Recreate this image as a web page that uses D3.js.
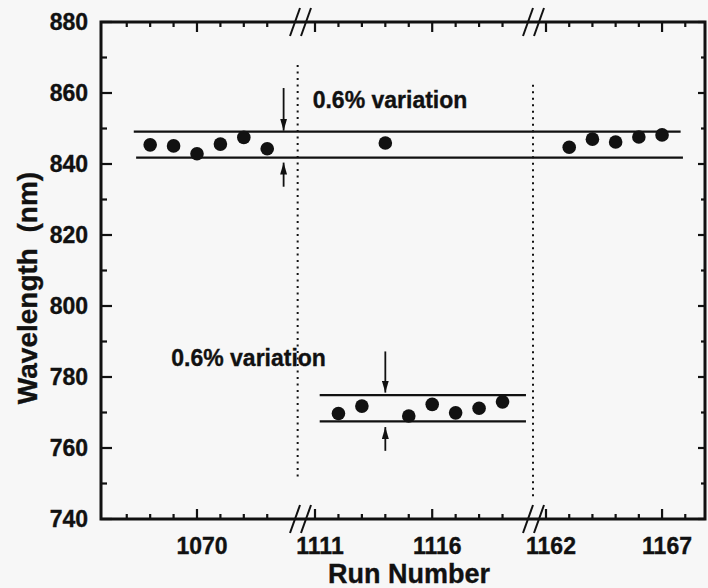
<!DOCTYPE html>
<html>
<head>
<meta charset="utf-8">
<script src="https://cdn.jsdelivr.net/npm/d3@7"></script>
<style>
  body { margin: 0; background: #f7f7f7; }
  text { font-family: "Liberation Sans", Arial, sans-serif; font-weight: bold; fill: #111; stroke: #111; stroke-width: 0.35px; }
</style>
</head>
<body>
<svg id="chart"></svg>
<script>
// data
const runsUpper = [1068, 1069, 1070, 1071, 1072, 1073, 1114, 1163, 1164, 1165, 1166, 1167];
const wavelengthUpper = [845.4, 845.1, 842.9, 845.6, 847.5, 844.3, 845.9, 844.7, 847.0, 846.2, 847.6, 848.2];
const runsLower = [1112, 1113, 1115, 1116, 1117, 1118, 1119];
const wavelengthLower = [769.7, 771.8, 769.0, 772.3, 769.9, 771.2, 773.0];

// variation bands: [from run, to run, wavelength]
const bandLines = [
  [1067.3, 1167.8, 849.1],
  [1067.4, 1167.9, 841.8],
  [1111.2, 1120.0, 774.9],
  [1111.2, 1120.0, 767.5]
];
// arrows: [run, from wavelength, to wavelength]
const arrows = [
  [1073.7, 861.4, 849.4],
  [1073.7, 833.6, 840.4],
  [1114.0, 787.2, 775.6],
  [1114.0, 759.2, 765.9]
];
const notes = ["0.6% variation", "0.6% variation"];
const noteRun = [1110.9, 1068.9];
const noteWl = [855.8, 783.0];

// dotted separators: [run, top wavelength, bottom wavelength]
const separators = [[1074.3, 867.9, 751.8], [1161.4, 862.3, 745.6]];

// broken x axis
const xSegments = [[1065.9, 1074.4], [1110.36, 1120.3], [1161.44, 1168.85]];
const xMinor = [d3.range(1067, 1074), d3.range(1111, 1120), d3.range(1162, 1169)];
const xLabels = [1070, 1111, 1116, 1162, 1167];
const yMajor = [740, 760, 780, 800, 820, 840, 860, 880];
const yMinor = [750, 770, 790, 810, 830, 850, 870];

const width = 708, height = 588;
const plotLeft = 101, plotRight = 705, plotTop = 22, plotBottom = 519;
const breakPx = [300, 533];

const svg = d3.select('#chart').attr('width', width).attr('height', height);

const x = d3.scaleLinear()
  .domain(xSegments.flat())
  .range([plotLeft, breakPx[0], breakPx[0], breakPx[1], breakPx[1], plotRight]);
const y = d3.scaleLinear().domain([740, 880]).range([plotBottom, plotTop]);

const ink = '#111';

// ticks on all four sides, pointing inward
const tickG = svg.append('g').attr('stroke', ink).attr('stroke-width', 2.2);
xMinor.flat().forEach(r => {
  const len = xLabels.includes(r) ? 10 : 5;
  tickG.append('line').attr('x1', x(r)).attr('x2', x(r)).attr('y1', plotBottom).attr('y2', plotBottom - len);
  tickG.append('line').attr('x1', x(r)).attr('x2', x(r)).attr('y1', plotTop).attr('y2', plotTop + len);
});
yMajor.concat(yMinor).forEach(v => {
  const major = yMajor.includes(v);
  tickG.append('line').attr('x1', plotLeft).attr('x2', plotLeft + (major ? 11 : 6)).attr('y1', y(v)).attr('y2', y(v));
  tickG.append('line').attr('x1', plotRight).attr('x2', plotRight - (major ? 7 : 4)).attr('y1', y(v)).attr('y2', y(v));
});

// frame
svg.append('rect')
  .attr('x', plotLeft).attr('y', plotTop)
  .attr('width', plotRight - plotLeft).attr('height', plotBottom - plotTop)
  .attr('fill', 'none').attr('stroke', ink).attr('stroke-width', 3);

// break marks
breakPx.forEach(bx => {
  [plotTop, plotBottom].forEach(by => {
    [-5, 6].forEach(off => {
      svg.append('line')
        .attr('x1', bx + off - 5).attr('y1', by + 14)
        .attr('x2', bx + off + 5).attr('y2', by - 14)
        .attr('stroke', ink).attr('stroke-width', 2);
    });
  });
});

// tick labels
svg.append('g').selectAll('text').data(xLabels).join('text')
  .attr('x', d => x(d) + 5).attr('y', plotBottom + 35)
  .attr('text-anchor', 'middle').attr('font-size', 23)
  .text(d => d);
svg.append('g').selectAll('text').data(yMajor).join('text')
  .attr('x', plotLeft - 13).attr('y', d => y(d)).attr('dy', '0.36em')
  .attr('text-anchor', 'end').attr('font-size', 23)
  .text(d => d);

// axis titles
svg.append('text')
  .attr('x', 409).attr('y', 583)
  .attr('text-anchor', 'middle').attr('font-size', 27)
  .text('Run Number');
svg.append('text')
  .attr('transform', 'translate(37,288) rotate(-90)')
  .attr('text-anchor', 'middle').attr('font-size', 28)
  .attr('xml:space', 'preserve')
  .text('Wavelength  (nm)');

// dotted separators
svg.append('g').selectAll('line').data(separators).join('line')
  .attr('x1', d => x(d[0])).attr('x2', d => x(d[0]))
  .attr('y1', d => y(d[1])).attr('y2', d => y(d[2]))
  .attr('stroke', ink).attr('stroke-width', 2)
  .attr('stroke-dasharray', '2,4.5');

// variation bands
svg.append('g').selectAll('line').data(bandLines).join('line')
  .attr('x1', d => x(d[0])).attr('x2', d => x(d[1]))
  .attr('y1', d => y(d[2])).attr('y2', d => y(d[2]))
  .attr('stroke', ink).attr('stroke-width', 2.3);

// arrows
svg.append('defs').append('marker')
  .attr('id', 'head').attr('viewBox', '0 0 12 7')
  .attr('refX', 12).attr('refY', 3.5)
  .attr('markerWidth', 12).attr('markerHeight', 7)
  .attr('markerUnits', 'userSpaceOnUse').attr('orient', 'auto')
  .append('path').attr('d', 'M0,0L12,3.5L0,7Z').attr('fill', ink);
svg.append('g').selectAll('line').data(arrows).join('line')
  .attr('x1', d => x(d[0])).attr('x2', d => x(d[0]))
  .attr('y1', d => y(d[1])).attr('y2', d => y(d[2]))
  .attr('stroke', ink).attr('stroke-width', 1.8)
  .attr('marker-end', 'url(#head)');

// annotations
svg.append('g').selectAll('text').data(notes).join('text')
  .attr('x', (d, i) => x(noteRun[i])).attr('y', (d, i) => y(noteWl[i]))
  .attr('font-size', 23)
  .text(d => d);

// points
const points = runsUpper.map((r, i) => [r, wavelengthUpper[i]])
  .concat(runsLower.map((r, i) => [r, wavelengthLower[i]]));
svg.append('g').selectAll('circle').data(points).join('circle')
  .attr('cx', d => x(d[0])).attr('cy', d => y(d[1]))
  .attr('r', 6.8).attr('fill', ink);
</script>
</body>
</html>
